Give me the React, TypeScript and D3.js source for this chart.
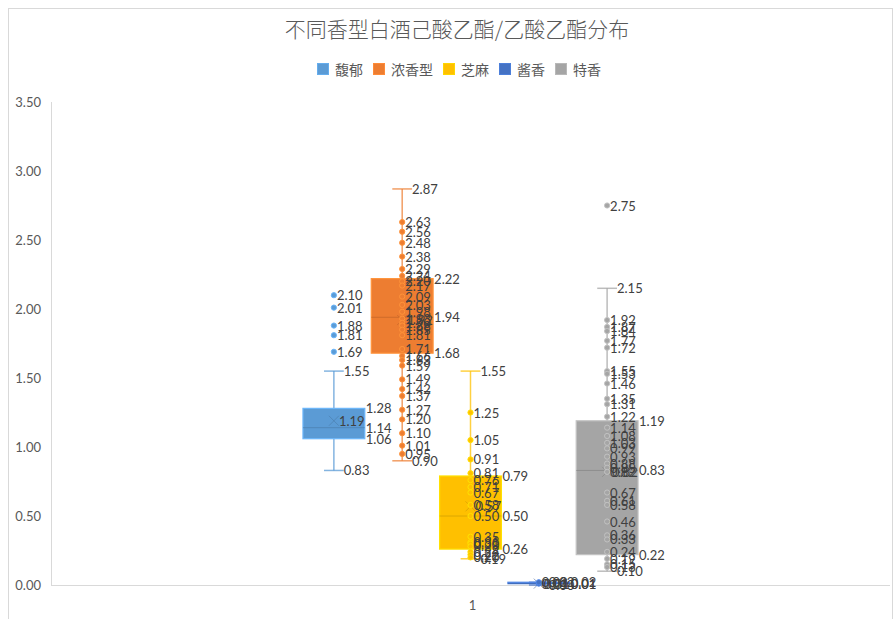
import React from "react";
import * as d3 from "d3";

// Chart data: one category, five flavour types, each summarised as a box plot
const CATEGORY = "1";
const SERIES = ["馥郁", "浓香型", "芝麻", "酱香", "特香"];
const COLORS = ["#5B9BD5", "#ED7D31", "#FFC000", "#4472C4", "#A5A5A5"];
const MINS = [0.83, 0.9, 0.19, 0.0, 0.1];
const Q1S = [1.06, 1.68, 0.26, 0.01, 0.22];
const MEDIANS = [1.14, 1.94, 0.5, 0.01, 0.83];
const Q3S = [1.28, 2.22, 0.79, 0.02, 1.19];
const MAXS = [1.55, 2.87, 1.55, 0.02, 2.15];
const MEANS = [1.19, 1.92, 0.57, 0.01, 0.82];
// individual samples drawn as markers (inner points and outliers)
const POINTS_FUYU = [2.1, 2.01, 1.88, 1.81, 1.69];
const POINTS_NONGXIANG = [
  2.63, 2.56, 2.48, 2.38, 2.29, 2.24, 2.2, 2.17, 2.09, 2.03, 1.98, 1.93, 1.9,
  1.88, 1.85, 1.81, 1.71, 1.66, 1.63, 1.59, 1.49, 1.42, 1.37, 1.27, 1.2, 1.1,
  1.01, 0.95,
];
const POINTS_ZHIMA = [
  1.25, 1.05, 0.91, 0.81, 0.76, 0.71, 0.67, 0.58, 0.5, 0.35, 0.31, 0.3, 0.28,
  0.24, 0.22, 0.2,
];
const POINTS_JIANGXIANG = [0.01, 0.02];
const POINTS_TEXIANG = [
  2.75, 1.92, 1.87, 1.84, 1.77, 1.72, 1.55, 1.53, 1.46, 1.35, 1.31, 1.22, 1.14,
  1.08, 1.03, 0.99, 0.93, 0.88, 0.85, 0.82, 0.67, 0.61, 0.58, 0.46, 0.36, 0.33,
  0.24, 0.19, 0.15, 0.13,
];
const POINTS = [POINTS_FUYU, POINTS_NONGXIANG, POINTS_ZHIMA, POINTS_JIANGXIANG, POINTS_TEXIANG];
const Y_TICKS = [0, 0.5, 1, 1.5, 2, 2.5, 3, 3.5];
const TITLE = "不同香型白酒己酸乙酯/乙酸乙酯分布";

const W = 896;
const H = 619;
const PLOT = { left: 51, right: 890, top: 102, bottom: 585 };
const NUM_FONT = "Lato, 'Liberation Sans', sans-serif";
const CJK_FONT = "'Noto Sans CJK SC', 'Noto Sans', sans-serif";
const LABEL_COLOR = "#404040";
const AXIS_TEXT = "#595959";

const fmt = d3.format(".2f");

export default function App() {
  const y = d3.scaleLinear().domain([0, 3.5]).range([PLOT.bottom, PLOT.top]);
  const x0 = d3
    .scaleBand<string>()
    .domain([CATEGORY])
    .range([PLOT.left, PLOT.right])
    .paddingInner(0)
    .paddingOuter(0.752);
  const x1 = d3
    .scaleBand<string>()
    .domain(SERIES)
    .range([x0(CATEGORY)!, x0(CATEGORY)! + x0.bandwidth()])
    .paddingInner(0.095)
    .paddingOuter(0);
  const bw = x1.bandwidth();
  const capW = bw * 0.32;

  // legend layout
  const charW = 14;
  const items = SERIES.map((s) => 11 + 7 + s.length * charW);
  const gap = 10;
  const totalLegend = d3.sum(items) + gap * (items.length - 1);
  let lx = 459 - totalLegend / 2;
  const legendX = items.map((w) => {
    const v = lx;
    lx += w + gap;
    return v;
  });

  return (
    <svg
      width={W}
      height={H}
      style={{ position: "absolute", left: 0, top: 0, background: "#fff" }}
    >
      <rect x={0} y={0} width={W} height={H} fill="#fff" />
      <rect x={8.5} y={8.5} width={884} height={H + 20} fill="none" stroke="#D9D9D9" />

      <text
        x={457}
        y={28}
        textAnchor="middle"
        dominantBaseline="central"
        fontFamily={CJK_FONT}
        fontSize={21}
        fill={AXIS_TEXT}
        fontWeight={300}
      >
        {TITLE}
      </text>

      {SERIES.map((s, i) => (
        <g key={s} transform={`translate(${legendX[i]},69)`}>
          <rect x={0.5} y={-5.5} width={11} height={11} fill={COLORS[i]} stroke={d3.color(COLORS[i])!.brighter(0.3).toString()} />
          <text
            x={18}
            y={0}
            dominantBaseline="central"
            fontFamily={CJK_FONT}
            fontSize={14}
            fill={AXIS_TEXT}
          >
            {s}
          </text>
        </g>
      ))}

      {/* axes */}
      <line x1={PLOT.left + 0.5} x2={PLOT.left + 0.5} y1={PLOT.top} y2={PLOT.bottom} stroke="#D9D9D9" />
      <line x1={PLOT.left} x2={PLOT.right} y1={PLOT.bottom + 0.5} y2={PLOT.bottom + 0.5} stroke="#D9D9D9" />
      {Y_TICKS.map((t) => (
        <text
          key={t}
          x={41}
          y={y(t)}
          textAnchor="end"
          dominantBaseline="central"
          fontFamily={NUM_FONT}
          fontSize={13}
          fill={AXIS_TEXT}
        >
          {fmt(t)}
        </text>
      ))}
      <text
        x={x0(CATEGORY)! + x0.bandwidth() / 2 + 2}
        y={605}
        textAnchor="middle"
        dominantBaseline="central"
        fontFamily={NUM_FONT}
        fontSize={13}
        fill={AXIS_TEXT}
      >
        {CATEGORY}
      </text>

      {/* boxes */}
      {SERIES.map((s, i) => {
        const c = COLORS[i];
        const left = x1(s)!;
        const cx = left + bw / 2;
        const light = d3.color(c)!.brighter(0.45).toString();
        const dark = d3.color(c)!.darker(0.7).toString();
        const yq1 = y(Q1S[i]);
        const yq3 = y(Q3S[i]);
        const ym = y(MEANS[i]);
        return (
          <g key={s}>
            <line x1={cx} x2={cx} y1={y(MAXS[i])} y2={yq3} stroke={c} strokeOpacity={0.75} strokeWidth={1.5} />
            <line x1={cx} x2={cx} y1={yq1} y2={y(MINS[i])} stroke={c} strokeOpacity={0.75} strokeWidth={1.5} />
            <line x1={cx - capW / 2} x2={cx + capW / 2} y1={y(MAXS[i])} y2={y(MAXS[i])} stroke={c} strokeOpacity={0.75} strokeWidth={1.5} />
            <line x1={cx - capW / 2} x2={cx + capW / 2} y1={y(MINS[i])} y2={y(MINS[i])} stroke={c} strokeOpacity={0.75} strokeWidth={1.5} />
            <rect
              x={left}
              y={yq3}
              width={bw}
              height={Math.max(yq1 - yq3, 0)}
              fill={c}
              stroke={light}
              strokeWidth={1.2}
            />
            <line x1={left} x2={left + bw} y1={y(MEDIANS[i])} y2={y(MEDIANS[i])} stroke={dark} strokeOpacity={0.6} strokeWidth={1} />
            <path
              d={`M${cx - 5},${ym - 5}L${cx + 5},${ym + 5}M${cx - 5},${ym + 5}L${cx + 5},${ym - 5}`}
              stroke={dark}
              strokeOpacity={0.55}
              strokeWidth={1}
              fill="none"
            />
            {POINTS[i].map((v, k) => (
              <circle key={k} cx={cx} cy={y(v)} r={2.6} fill={c} stroke={light} strokeWidth={1} />
            ))}
          </g>
        );
      })}

      {/* data labels */}
      {SERIES.map((s, i) => {
        const left = x1(s)!;
        const cx = left + bw / 2;
        const common = {
          dominantBaseline: "central" as const,
          fontFamily: NUM_FONT,
          fontSize: 13,
          fill: LABEL_COLOR,
        };
        return (
          <g key={s}>
            {POINTS[i].map((v, k) => (
              <text key={k} x={cx + 3} y={y(v)} {...common}>
                {fmt(v)}
              </text>
            ))}
            <text x={cx + 5} y={y(MEANS[i])} {...common}>{fmt(MEANS[i])}</text>
            <text x={cx + capW / 2} y={y(MAXS[i])} {...common}>{fmt(MAXS[i])}</text>
            <text x={cx + capW / 2} y={y(MINS[i])} {...common}>{fmt(MINS[i])}</text>
            <text x={left + bw + 1} y={y(Q3S[i])} {...common}>{fmt(Q3S[i])}</text>
            <text x={left + bw + 1} y={y(MEDIANS[i])} {...common}>{fmt(MEDIANS[i])}</text>
            <text x={left + bw + 1} y={y(Q1S[i])} {...common}>{fmt(Q1S[i])}</text>
          </g>
        );
      })}
    </svg>
  );
}
